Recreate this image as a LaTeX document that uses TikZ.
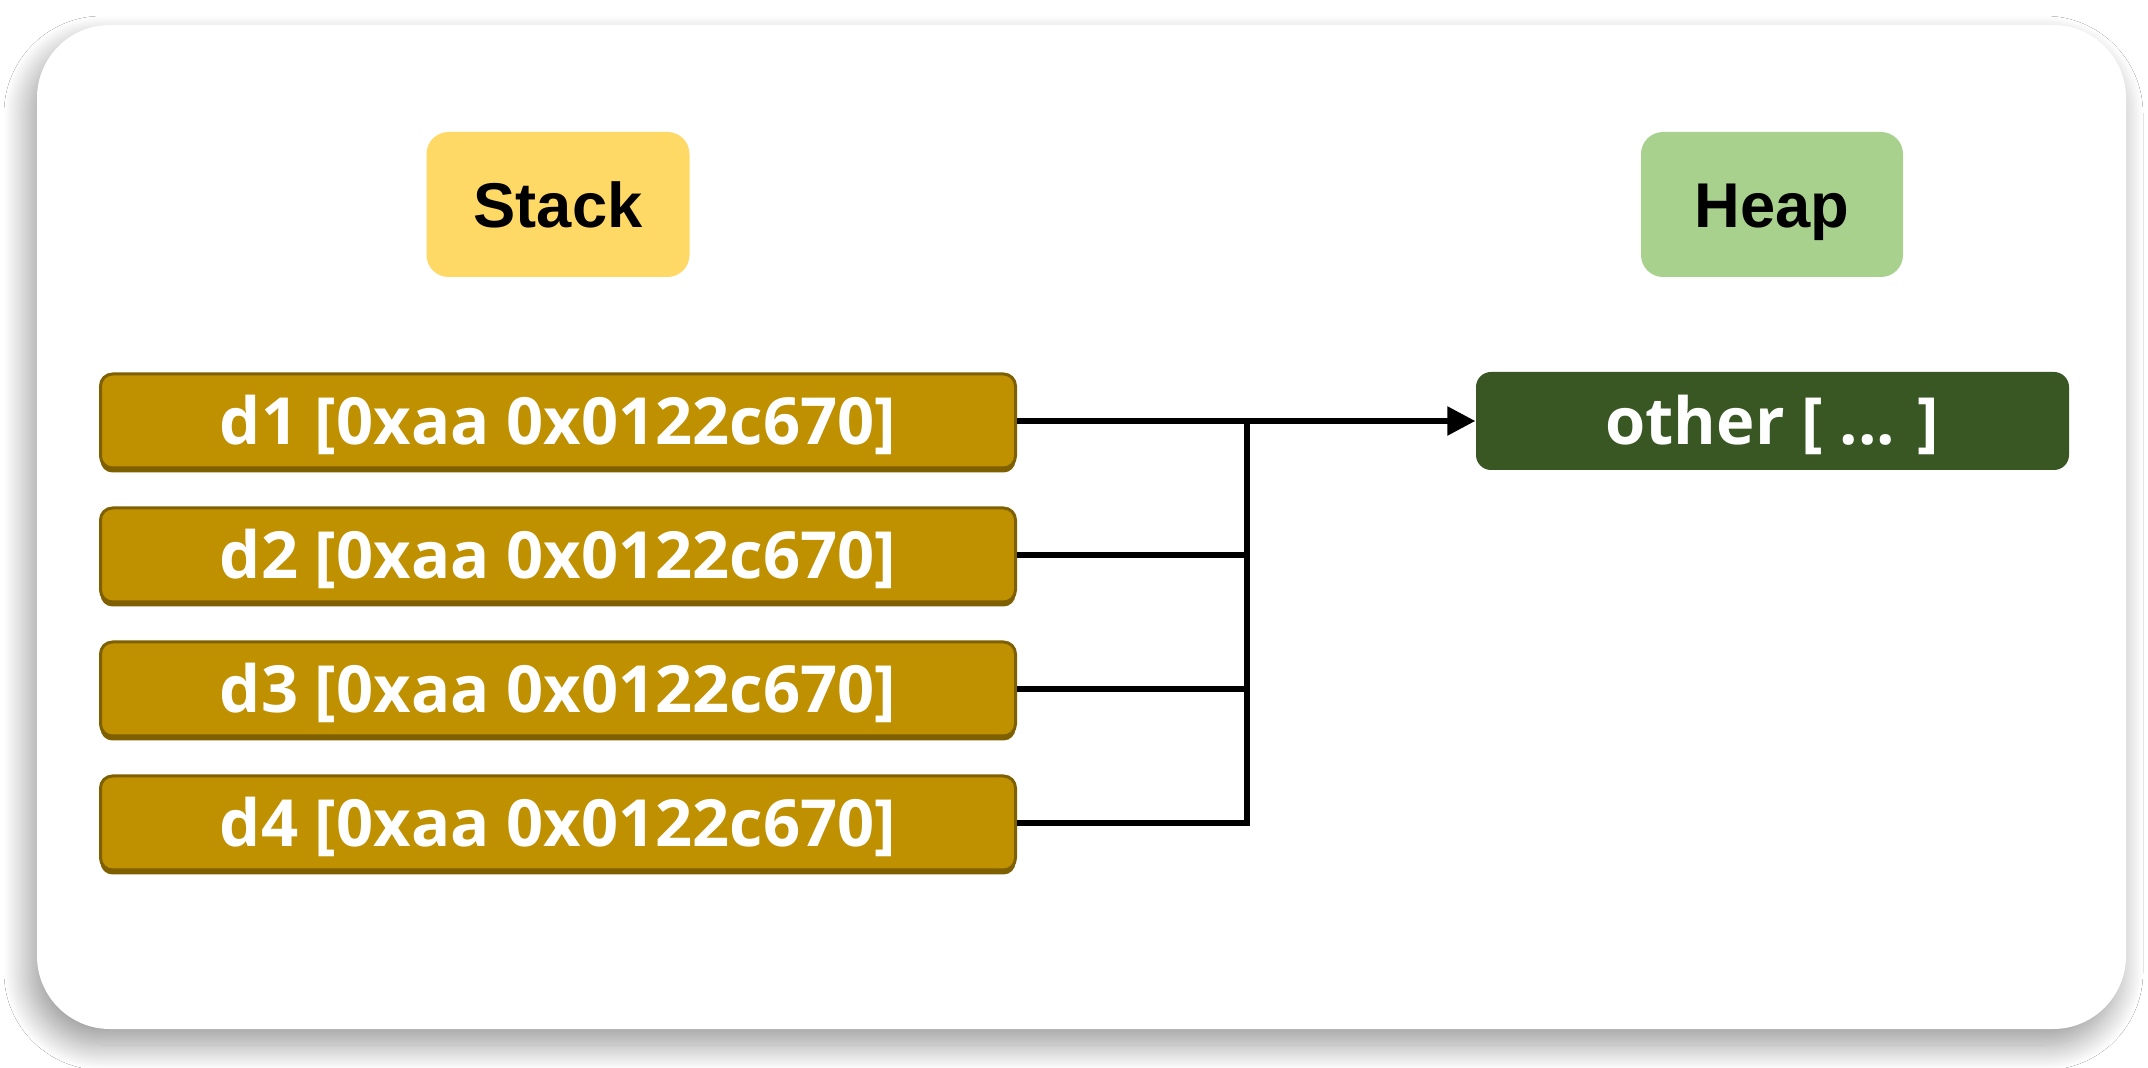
\documentclass[tikz,border=0pt]{standalone}
\usepackage{fontspec}
\setmainfont{Liberation Sans}
\newfontfamily\opensans{Open Sans}
\usetikzlibrary{arrows.meta,shadows,shadows.blur}
\definecolor{stackyel}{HTML}{FFD966}
\definecolor{heapgrn}{HTML}{A9D18E}
\definecolor{dfill}{HTML}{BF9000}
\definecolor{dborder}{HTML}{7F6000}
\definecolor{othergrn}{HTML}{385723}
\tikzset{
  titlebox/.style={rectangle, rounded corners=0.22cm, minimum width=2.63cm, minimum height=1.45cm,
    inner sep=0pt, font=\fontsize{18pt}{20pt}\selectfont\bfseries, text=black,
    text height=12.9pt, text depth=0pt},
  varbox/.style={rectangle, rounded corners=0.12cm, minimum width=9.15cm, minimum height=0.94cm,
    inner sep=0pt, fill=dfill, draw=dborder, line width=0.03cm,
    general shadow={shadow yshift=-0.045cm, fill=dborder},
    font=\opensans\fontsize{18.5pt}{20pt}\selectfont\bfseries, text=white,
    text height=13.2pt, text depth=0pt},
  heapbox/.style={rectangle, rounded corners=0.15cm, minimum width=5.93cm, minimum height=0.98cm,
    inner sep=0pt, fill=othergrn,
    font=\opensans\fontsize{18.5pt}{20pt}\selectfont\bfseries, text=white,
    text height=13.2pt, text depth=0pt},
  link/.style={line width=0.055cm, draw=black},
}
\begin{document}
\begin{tikzpicture}[x=0.1mm,y=-0.1mm]
\useasboundingbox (0,0) rectangle (2148,1068);
\fill[white] (0,0) rectangle (2148,1068);
\path[fill=white, rounded corners=0.73cm,
  blur shadow={shadow xshift=-0.08cm, shadow yshift=-0.16cm, shadow blur radius=0.25cm,
    shadow blur steps=30, shadow opacity=40}]
  (37,25) rectangle (2126,1029);

\node[titlebox, fill=stackyel] (stack) at (558,204.5) {Stack};
\node[titlebox, fill=heapgrn, minimum width=2.62cm] (heap) at (1772,204.5) {Heap};

\node[varbox] (d1) at (558,421) {d1 [0xaa 0x0122c670]};
\node[varbox] (d2) at (558,555) {d2 [0xaa 0x0122c670]};
\node[varbox] (d3) at (558,689) {d3 [0xaa 0x0122c670]};
\node[varbox] (d4) at (558,823) {d4 [0xaa 0x0122c670]};

\node[heapbox] (other) at (1772.5,421) {other [ ... ]};

\coordinate (j) at (1247,421);
\draw[link, -{Triangle[length=0.28cm,width=0.28cm]}] (d1.east) -- (other.west);
\draw[link] (d2.east) -| (j);
\draw[link] (d3.east) -| (j);
\draw[link] (d4.east) -| (j);
\end{tikzpicture}
\end{document}
